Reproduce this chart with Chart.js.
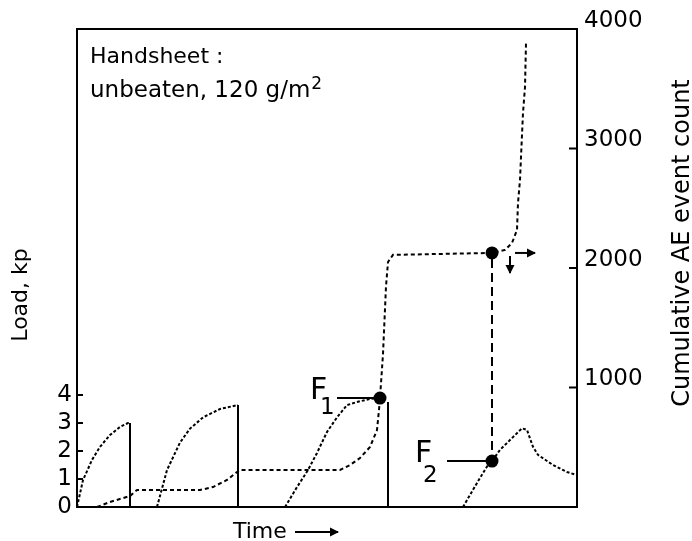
<!DOCTYPE html>
<html><head><meta charset="utf-8">
<script src="https://cdn.jsdelivr.net/npm/chart.js@4/dist/chart.umd.min.js"></script>
<style>html,body{margin:0;padding:0;background:#fff}canvas{display:block}</style>
</head><body>
<canvas id="c" width="692" height="541"></canvas>
<script>
// ---- data (time in arbitrary units 0..500) ----
const loadTicks = [0, 1, 2, 3, 4];
const aeTicks = [1000, 2000, 3000, 4000];

const run1Time = [0, 6, 15, 23, 33, 43, 51, 53];
const run1Load = [0, 0.96, 1.68, 2.15, 2.57, 2.86, 3.0, 3.0];
const run2Time = [80, 90, 103, 113, 126, 143, 161];
const run2Load = [0, 1.32, 2.3, 2.8, 3.2, 3.5, 3.64];
const run3Time = [208, 220, 231, 240, 250, 260, 270, 280, 293, 303];
const run3Load = [0, 0.71, 1.32, 1.93, 2.68, 3.2, 3.64, 3.75, 3.86, 3.89];
const run4Time = [386, 400, 411, 415, 423, 433, 445, 450, 456, 461, 476, 490, 500];
const run4Load = [0, 0.86, 1.5, 1.64, 2.04, 2.39, 2.81, 2.75, 2.15, 1.86, 1.5, 1.25, 1.14];

const dropTime = [53, 161, 311];
const dropLoad = [3.0, 3.64, 3.75];

const aeTime  = [20, 33, 53, 60, 123, 136, 150, 160, 163, 263, 273, 283, 293, 300, 302, 303, 306, 309, 311, 316, 415, 428, 435, 440, 441, 443, 444, 446, 448, 449];
const aeCount = [0, 42, 92, 142, 142, 167, 226, 293, 310, 310, 351, 410, 502, 644, 812, 912, 1280, 1845, 2050, 2110, 2126, 2151, 2209, 2318, 2544, 2736, 2929, 3297, 3515, 3883];

const f1Time = 303, f1Load = 3.89;
const f2Time = 415, f2Load = 1.64;
const aeMarkTime = 415, aeMarkCount = 2126;

const loadMax = 17.07, aeMax = 4000;

// ---- build ----
const pts = (xs, ys) => xs.map((x, i) => ({x, y: ys[i]}));
const FONT = '"DejaVu Sans", "Liberation Sans", sans-serif';
const K = '#000';

const dotted = (xs, ys, axis, dash) => ({
  data: pts(xs, ys), yAxisID: axis, showLine: true, pointRadius: 0,
  borderColor: K, borderWidth: 2, borderDash: dash, tension: 0, fill: false
});

const datasets = [
  dotted(run1Time, run1Load, 'yLoad', [3, 2]),
  dotted(run2Time, run2Load, 'yLoad', [3, 2]),
  dotted(run3Time, run3Load, 'yLoad', [3, 2]),
  dotted(run4Time, run4Load, 'yLoad', [3, 2]),
  dotted(aeTime, aeCount, 'yAE', [4, 3]),
];
dropTime.forEach((t, i) => datasets.push({
  data: [{x: t, y: dropLoad[i]}, {x: t, y: 0}], yAxisID: 'yLoad', showLine: true,
  pointRadius: 0, borderColor: K, borderWidth: 2
}));
datasets.push({data: [{x: f1Time, y: f1Load}, {x: f2Time, y: f2Load}], yAxisID: 'yLoad',
  showLine: false, pointRadius: 6.5, pointBackgroundColor: K, pointBorderColor: K, pointBorderWidth: 0});
datasets.push({data: [{x: aeMarkTime, y: aeMarkCount}], yAxisID: 'yAE',
  showLine: false, pointRadius: 6.5, pointBackgroundColor: K, pointBorderColor: K, pointBorderWidth: 0});

function line(ctx, x1, y1, x2, y2) { ctx.beginPath(); ctx.moveTo(x1, y1); ctx.lineTo(x2, y2); ctx.stroke(); }
function arrow(ctx, x1, y1, x2, y2) {
  line(ctx, x1, y1, x2, y2);
  const ang = Math.atan2(y2 - y1, x2 - x1), L = 8, W = 4.5;
  ctx.beginPath();
  ctx.moveTo(x2 + Math.cos(ang) * 1, y2 + Math.sin(ang) * 1);
  ctx.lineTo(x2 - L * Math.cos(ang) + W * Math.sin(ang), y2 - L * Math.sin(ang) - W * Math.cos(ang));
  ctx.lineTo(x2 - L * Math.cos(ang) - W * Math.sin(ang), y2 - L * Math.sin(ang) + W * Math.cos(ang));
  ctx.closePath(); ctx.fill();
}

const ann = {
  id: 'ann',
  afterDatasetsDraw(chart) {
    const {ctx, chartArea: a, scales} = chart;
    const X = v => scales.x.getPixelForValue(v);
    const L = v => scales.yLoad.getPixelForValue(v);
    const E = v => scales.yAE.getPixelForValue(v);
    ctx.save();
    ctx.strokeStyle = K; ctx.fillStyle = K; ctx.lineWidth = 2; ctx.lineCap = 'butt';
    ctx.strokeRect(a.left, a.top, a.right - a.left, a.bottom - a.top);
    loadTicks.forEach(v => line(ctx, a.left, L(v), a.left + 6, L(v)));
    aeTicks.filter(v => v < aeMax).forEach(v => line(ctx, a.right - 8, E(v), a.right, E(v)));
    // connector F2 -> AE mark
    ctx.setLineDash([9, 5]);
    line(ctx, X(aeMarkTime), E(aeMarkCount) + 6, X(f2Time), L(f2Load) - 6);
    ctx.setLineDash([]);
    // leaders
    line(ctx, X(f1Time) - 43, L(f1Load), X(f1Time), L(f1Load));
    line(ctx, X(f2Time) - 45, L(f2Load), X(f2Time), L(f2Load));
    // arrows beside AE mark
    arrow(ctx, X(aeMarkTime) + 23, E(aeMarkCount), X(aeMarkTime) + 43, E(aeMarkCount));
    arrow(ctx, X(aeMarkTime) + 18, E(aeMarkCount) + 3, X(aeMarkTime) + 18, E(aeMarkCount) + 20);
    // F labels
    ctx.textAlign = 'left'; ctx.textBaseline = 'alphabetic';
    ctx.font = '30px ' + FONT;
    ctx.fillText('F', X(f1Time) - 70, L(f1Load) + 1);
    ctx.fillText('F', X(f2Time) - 77, L(f2Load) + 1);
    ctx.font = '23px ' + FONT;
    ctx.fillText('1', X(f1Time) - 60, L(f1Load) + 16);
    ctx.fillText('2', X(f2Time) - 69, L(f2Load) + 21);
    // note
    ctx.font = '22px ' + FONT;
    ctx.fillText('Handsheet :', a.left + 13, a.top + 34);
    const l2 = 'unbeaten, 120 g/m';
    ctx.font = '23px ' + FONT;
    ctx.fillText(l2, a.left + 13, a.top + 68);
    const w2 = ctx.measureText(l2).width;
    ctx.font = '17px ' + FONT;
    ctx.fillText('2', a.left + 13 + w2 + 1, a.top + 60);
    // Time label
    ctx.font = '22px ' + FONT;
    ctx.fillText('Time', 233, 538);
    arrow(ctx, 295, 532, 338, 532);
    // axis titles
    ctx.font = '22px ' + FONT;
    ctx.textAlign = 'center';
    ctx.save(); ctx.translate(27, 295); ctx.rotate(-Math.PI / 2); ctx.fillText('Load, kp', 0, 0); ctx.restore();
    ctx.font = '24px ' + FONT;
    ctx.save(); ctx.translate(689, 243); ctx.rotate(-Math.PI / 2); ctx.fillText('Cumulative AE event count', 0, 0); ctx.restore();
    ctx.restore();
  }
};

new Chart(document.getElementById('c'), {
  type: 'scatter',
  data: {datasets},
  options: {
    responsive: false, devicePixelRatio: 1, animation: false,
    layout: {padding: {top: 29, bottom: 34, left: 0, right: 0}},
    plugins: {legend: {display: false}, tooltip: {enabled: false}},
    scales: {
      x: {type: 'linear', min: 0, max: 500, display: false},
      yLoad: {
        position: 'left', min: 0, max: loadMax,
        afterBuildTicks: s => { s.ticks = loadTicks.map(v => ({value: v})); },
        afterFit: s => { s.width = 77; },
        grid: {display: false, drawTicks: false}, border: {display: false},
        ticks: {color: K, padding: 5, font: {family: FONT, size: 23}, callback: v => String(v)}
      },
      yAE: {
        position: 'right', min: 0, max: aeMax,
        afterBuildTicks: s => { s.ticks = aeTicks.map(v => ({value: v})); },
        afterFit: s => { s.width = 115; },
        grid: {display: false, drawTicks: false}, border: {display: false},
        ticks: {color: K, padding: 7, labelOffset: -8, font: {family: FONT, size: 23}, callback: v => String(v)}
      }
    }
  },
  plugins: [ann]
});
</script>
</body></html>
